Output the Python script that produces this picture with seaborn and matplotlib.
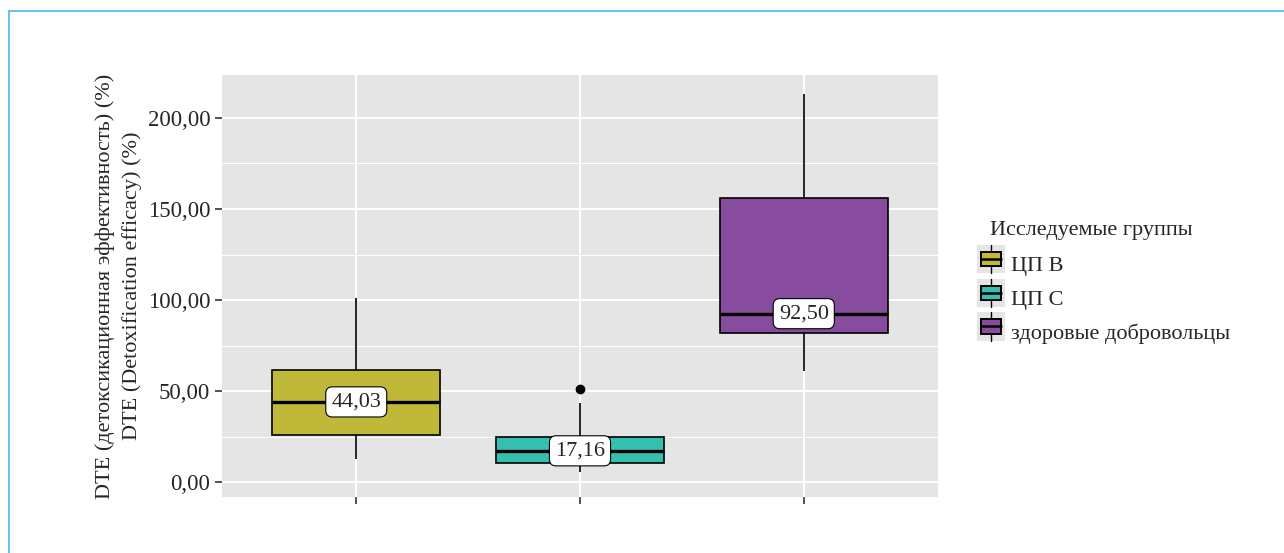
import numpy as np
import pandas as pd
import seaborn as sns
import matplotlib.pyplot as plt
from matplotlib.lines import Line2D
from matplotlib.patches import Rectangle
from matplotlib.legend_handler import HandlerBase

# values (chosen so the box statistics match)
group_b = [12.6, 25.8, 44.03, 61.5, 101.1]
group_c = [5.5, 8.0, 10.4, 14.0, 17.16, 21.0, 24.7, 43.2, 51.1]
healthy = [61.0, 81.9, 92.5, 156.0, 213.2]

groups = ['ЦП B', 'ЦП C', 'здоровые добровольцы']
medians = ['44,03', '17,16', '92,50']
colors = ['#BFB838', '#35BFB0', '#874C9D']
yticks = [0, 50, 100, 150, 200]

df = pd.DataFrame({
    'group': [groups[0]] * len(group_b) + [groups[1]] * len(group_c) + [groups[2]] * len(healthy),
    'value': group_b + group_c + healthy,
})

sns.set_style('darkgrid', {'axes.facecolor': '#E5E5E5', 'grid.color': 'white'})
plt.rcParams['font.family'] = ['Liberation Serif', 'DejaVu Serif']

fig = plt.figure(figsize=(12.84, 5.53), dpi=100)
ax = fig.add_axes([222 / 1284, 1 - 497 / 553, (938 - 222) / 1284, (497 - 75) / 553])

sns.boxplot(data=df, x='group', y='value', hue='group', palette=colors, order=groups,
            width=0.75, saturation=1, linecolor='black', linewidth=1.2, whis=1.5, legend=False,
            flierprops=dict(marker='o', markerfacecolor='black', markeredgecolor='black', markersize=6),
            medianprops=dict(linewidth=2.4, color='black'),
            whiskerprops=dict(linewidth=1.2), capprops=dict(linewidth=0),
            ax=ax)

# median labels
for i, txt in enumerate(medians):
    val = float(txt.replace(',', '.'))
    ax.text(i, val, txt, ha='center', va='center', fontsize=16,
            bbox=dict(boxstyle='round,pad=0.25,rounding_size=0.3', fc='white', ec='black', lw=0.8))

ax.set_xlim(-0.6, 2.6)
ax.set_ylim(-8.2, 223.6)
ax.set_yticks(yticks)
ax.set_yticklabels([f'{v:.2f}'.replace('.', ',') for v in yticks], fontsize=16.5)
ax.set_yticks([25, 75, 125, 175], minor=True)
ax.grid(True, which='major', color='white', linewidth=1.4)
ax.grid(True, which='minor', axis='y', color='white', linewidth=0.7)
ax.set_xticks([0, 1, 2])
ax.set_xticklabels([])
ax.set_xlabel('')
ax.set_ylabel('DTE (детоксикационная эффективность) (%)\nDTE (Detoxification efficacy) (%)',
              fontsize=16, linespacing=1.45, labelpad=4)
ax.tick_params(axis='both', which='major', length=5, width=1.2, color='#333333', left=True, bottom=True)
ax.tick_params(axis='y', which='minor', length=0)
for s in ax.spines.values():
    s.set_visible(False)


class BoxHandler(HandlerBase):
    def create_artists(self, legend, orig, xd, yd, w, h, fontsize, trans):
        bg = Rectangle((xd - 2, yd - 3), w + 4, h + 6, fc='#E5E5E5', ec='none', transform=trans)
        wl = Line2D([xd + w / 2] * 2, [yd - 3, yd + h + 3], color='black', lw=1, transform=trans)
        box = Rectangle((xd + 1, yd + 2), w - 2, h - 4, fc=orig.get_facecolor(), ec='black', lw=1.4,
                        transform=trans)
        med = Line2D([xd + 1, xd + w - 1], [yd + h / 2] * 2, color='black', lw=1.8, transform=trans)
        return [bg, wl, box, med]


handles = [Rectangle((0, 0), 1, 1, fc=c) for c in colors]
fig.text(990 / 1284, 1 - 231 / 553, 'Исследуемые группы', fontsize=16, va='center', ha='left')
leg = fig.legend(handles, groups, loc='upper left', borderaxespad=0,
                 bbox_to_anchor=(971 / 1284, 1 - 245 / 553), frameon=False, fontsize=16,
                 handler_map={Rectangle: BoxHandler()},
                 handlelength=1.0, handleheight=1.0, handletextpad=0.4, labelspacing=0.5)

# thin frame around the figure
fig.add_artist(Line2D([9 / 1284, 9 / 1284], [0, 1 - 11 / 553], color='#4DB8EA', lw=1.2))
fig.add_artist(Line2D([9 / 1284, 1], [1 - 11 / 553, 1 - 11 / 553], color='#4DB8EA', lw=1.2))

fig.savefig('out.png', dpi=100, facecolor='white')
